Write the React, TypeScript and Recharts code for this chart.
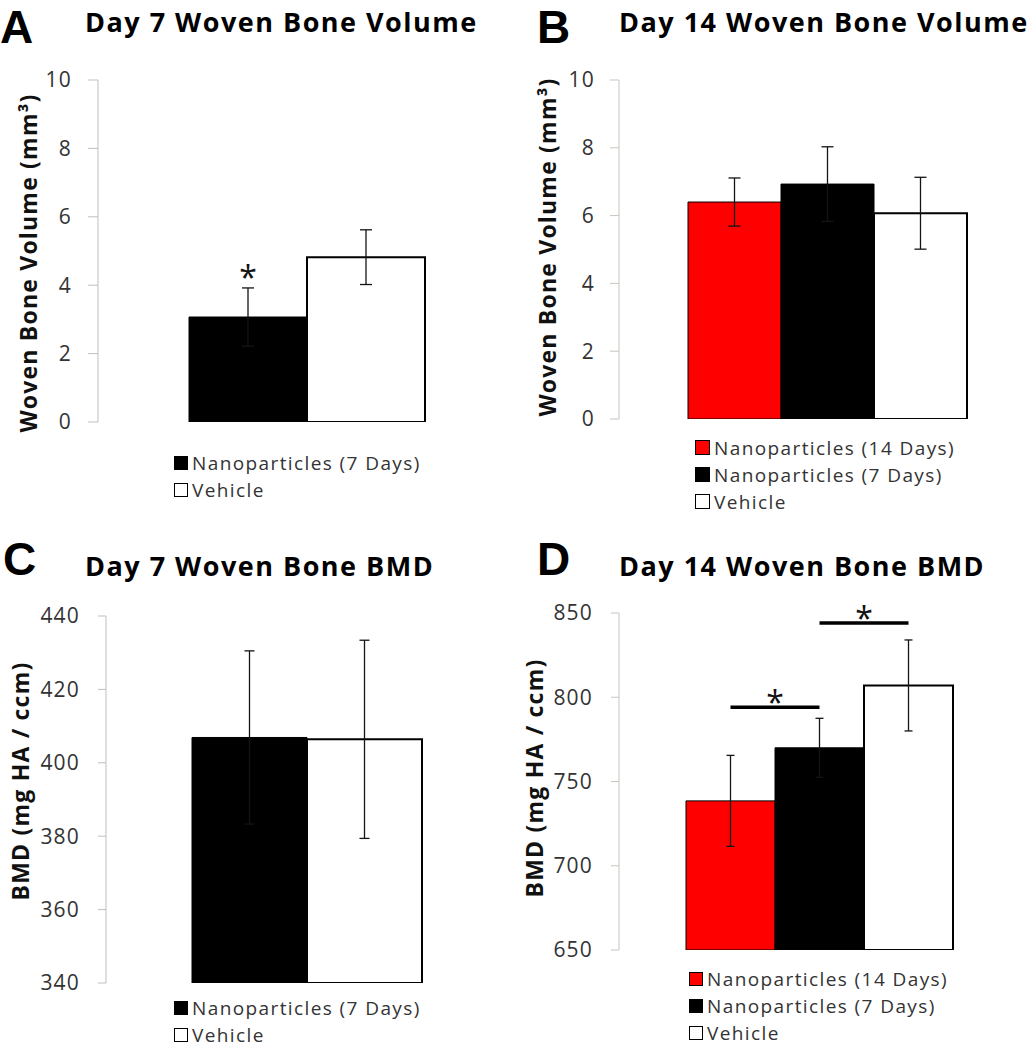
import React from 'react';
import { BarChart, Bar, XAxis, YAxis, Legend, ErrorBar } from 'recharts';

const FONT = '"Open Sans", "Liberation Sans", sans-serif';

// A: day 7 woven bone volume (mm3)
const day7Groups = ['Nanoparticles (7 Days)', 'Vehicle'];
const day7VolMeans = [3.07, 4.82];
const day7VolErrors = [0.85, 0.8];
const volTicks = [0, 2, 4, 6, 8, 10];

// B: day 14 woven bone volume (mm3)
const day14Groups = ['Nanoparticles (14 Days)', 'Nanoparticles (7 Days)', 'Vehicle'];
const day14VolMeans = [6.4, 6.93, 6.07];
const day14VolErrors = [0.71, 1.1, 1.06];

// C: day 7 woven bone BMD (mg HA / ccm)
const day7BmdMeans = [406.9, 406.4];
const day7BmdErrors = [23.6, 27];
const day7BmdTicks = [340, 360, 380, 400, 420, 440];

// D: day 14 woven bone BMD (mg HA / ccm)
const day14BmdMeans = [738.5, 770, 807];
const day14BmdErrors = [27, 17.5, 27];
const day14BmdTicks = [650, 700, 750, 800, 850];
// heights of the two significance brackets (red-black, black-white)
const day14BmdSigLevels = [794, 844];

const twoColors = ['#000000', '#ffffff'];
const threeColors = ['#ff0000', '#000000', '#ffffff'];

const toRows = (means: number[], errors: number[]) => {
  const row: Record<string, number | string> = { name: 'group' };
  means.forEach((m, i) => {
    row[`v${i}`] = m;
    row[`e${i}`] = errors[i];
  });
  return [row];
};

const SwatchLegend = ({ payload, size }: any) => (
  <div
    style={{
      fontFamily: FONT,
      fontSize: 19,
      letterSpacing: 1.4,
      color: '#333',
      whiteSpace: 'nowrap',
    }}
  >
    {(payload || []).map((entry: any, i: number) => (
      <div key={i} style={{ display: 'flex', alignItems: 'center', height: 27 }}>
        <span
          style={{
            display: 'inline-block',
            width: size,
            height: size,
            boxSizing: 'border-box',
            background: entry.color,
            border: `${entry.color === '#ffffff' ? 1.5 : 1}px solid #000`,
            marginRight: 4,
          }}
        />
        <span>{entry.value}</span>
      </div>
    ))}
  </div>
);

type PanelProps = {
  left: number;
  top: number;
  width: number;
  height: number;
  margin: { top: number; right: number; bottom: number; left: number };
  axisWidth: number;
  domain: [number, number];
  ticks: number[];
  tickSize: number;
  tickMargin: number;
  axisColor: string;
  groups: string[];
  means: number[];
  errors: number[];
  colors: string[];
  barSize: number;
  capWidth: number;
  yTitle: string;
  yTitlePos: [number, number];
  legendPos: [number, number];
  swatch: number;
  markerIndex?: number;
  marker?: (p: any) => React.ReactNode;
};

function Panel(p: PanelProps) {
  const data = toRows(p.means, p.errors);
  return (
    <div style={{ position: 'absolute', left: p.left, top: p.top }}>
      <BarChart width={p.width} height={p.height} data={data} margin={p.margin} barGap={0}>
        <XAxis dataKey="name" hide />
        <YAxis
          width={p.axisWidth}
          domain={p.domain}
          ticks={p.ticks}
          interval={0}
          allowDataOverflow
          tickSize={p.tickSize}
          tickMargin={p.tickMargin}
          axisLine={{ stroke: p.axisColor, strokeWidth: 1 }}
          tickLine={{ stroke: p.axisColor, strokeWidth: 1 }}
          tick={{ fill: '#333', fontSize: 21, fontFamily: FONT, letterSpacing: 1.2 }}
          label={{
            content: () => (
              <text
                transform={`translate(${p.yTitlePos[0]},${p.yTitlePos[1]}) rotate(-90)`}
                textAnchor="middle"
                dominantBaseline="central"
                fontFamily={FONT}
                fontWeight="bold"
                fontSize={23}
                letterSpacing={1.2}
                fill="#111"
              >
                {p.yTitle}
              </text>
            ),
          }}
        />
        <Legend
          layout="vertical"
          align="center"
          verticalAlign="middle"
          wrapperStyle={{ left: p.legendPos[0], top: p.legendPos[1], width: 340 }}
          content={(lp: any) => <SwatchLegend payload={lp.payload} size={p.swatch} />}
        />
        {p.groups.map((g, i) => (
          <Bar
            key={g}
            dataKey={`v${i}`}
            name={g}
            fill={p.colors[i]}
            stroke="#000"
            strokeWidth={p.colors[i] === '#ffffff' ? 2 : 1}
            barSize={p.barSize}
            isAnimationActive={false}
            label={p.markerIndex === i && p.marker ? p.marker : undefined}
          >
            <ErrorBar
              dataKey={`e${i}`}
              width={p.capWidth}
              stroke="#141414"
              strokeWidth={1.3}
              isAnimationActive={false}
            />
          </Bar>
        ))}
      </BarChart>
    </div>
  );
}

// asterisk just above the error bar of a bar
const starAbove = (err: number, base: number) => (lp: any) => {
  const { x, y, width, height, value } = lp;
  const k = height / (value - base);
  const top = y - err * k;
  return (
    <text x={x + width / 2} y={top + 1} textAnchor="middle" fontFamily={FONT} fontSize={32} fill="#111">
      *
    </text>
  );
};

// two significance brackets drawn from the middle (black) bar
const sigBrackets = (levels: number[], base: number) => (lp: any) => {
  const { x, y, width, height, value } = lp;
  const k = height / (value - base);
  const yAt = (v: number) => y - (v - value) * k;
  const mid = x + width / 2;
  const spans = [
    [mid - width, mid],
    [mid, mid + width],
  ];
  return (
    <g>
      {levels.map((lv, i) => (
        <g key={i}>
          <line x1={spans[i][0]} x2={spans[i][1]} y1={yAt(lv)} y2={yAt(lv)} stroke="#000" strokeWidth={3.5} />
          <text
            x={(spans[i][0] + spans[i][1]) / 2}
            y={yAt(lv) + 7}
            textAnchor="middle"
            fontFamily={FONT}
            fontSize={32}
            fill="#111"
          >
            *
          </text>
        </g>
      ))}
    </g>
  );
};

const letterStyle: React.CSSProperties = {
  position: 'absolute',
  fontFamily: '"Liberation Sans", Arial, sans-serif',
  fontWeight: 'bold',
  fontSize: 46,
  lineHeight: 'normal',
  color: '#000',
};

const titleStyle: React.CSSProperties = {
  position: 'absolute',
  fontFamily: FONT,
  fontWeight: 'bold',
  fontSize: 27,
  letterSpacing: 1.5,
  lineHeight: 1,
  color: '#000',
  whiteSpace: 'nowrap',
};

export default function App() {
  return (
    <div
      style={{
        position: 'absolute',
        left: 0,
        top: 0,
        width: 1030,
        height: 1050,
        overflow: 'hidden',
        background: '#fff',
      }}
    >
      <Panel
        left={0}
        top={0}
        width={520}
        height={520}
        margin={{ top: 80, right: 4, bottom: 98, left: 0 }}
        axisWidth={98}
        domain={[0, 10]}
        ticks={volTicks}
        tickSize={10}
        tickMargin={16}
        axisColor="#bfbfbf"
        groups={day7Groups}
        means={day7VolMeans}
        errors={day7VolErrors}
        colors={twoColors}
        barSize={118}
        capWidth={6}
        yTitle="Woven Bone Volume (mm³)"
        yTitlePos={[28, 263]}
        legendPos={[174, 449]}
        swatch={14}
        markerIndex={0}
        marker={starAbove(day7VolErrors[0], 0)}
      />
      <Panel
        left={515}
        top={0}
        width={520}
        height={520}
        margin={{ top: 80, right: 0, bottom: 101, left: 0 }}
        axisWidth={104}
        domain={[0, 10]}
        ticks={volTicks}
        tickSize={9}
        tickMargin={15}
        axisColor="#c3c8bd"
        groups={day14Groups}
        means={day14VolMeans}
        errors={day14VolErrors}
        colors={threeColors}
        barSize={93}
        capWidth={6}
        yTitle="Woven Bone Volume (mm³)"
        yTitlePos={[32, 247]}
        legendPos={[180, 434]}
        swatch={15}
      />
      <Panel
        left={0}
        top={520}
        width={515}
        height={530}
        margin={{ top: 96, right: 7, bottom: 67, left: 0 }}
        axisWidth={106}
        domain={[340, 440]}
        ticks={day7BmdTicks}
        tickSize={8}
        tickMargin={18}
        axisColor="#bfbfbf"
        groups={day7Groups}
        means={day7BmdMeans}
        errors={day7BmdErrors}
        colors={twoColors}
        barSize={115}
        capWidth={5}
        yTitle="BMD (mg HA / ccm)"
        yTitlePos={[20, 261]}
        legendPos={[174, 474]}
        swatch={14}
      />
      <Panel
        left={515}
        top={520}
        width={515}
        height={530}
        margin={{ top: 93, right: 10, bottom: 100, left: 0 }}
        axisWidth={104}
        domain={[650, 850]}
        ticks={day14BmdTicks}
        tickSize={8}
        tickMargin={18}
        axisColor="#c3c8bd"
        groups={day14Groups}
        means={day14BmdMeans}
        errors={day14BmdErrors}
        colors={threeColors}
        barSize={89}
        capWidth={4}
        yTitle="BMD (mg HA / ccm)"
        yTitlePos={[19, 258]}
        legendPos={[174, 445]}
        swatch={14}
        markerIndex={1}
        marker={sigBrackets(day14BmdSigLevels, 650)}
      />

      <div style={{ ...letterStyle, left: 0, top: 0 }}>A</div>
      <div style={{ ...titleStyle, left: 85, top: 8 }}>Day 7 Woven Bone Volume</div>
      <div style={{ ...letterStyle, left: 537, top: 0 }}>B</div>
      <div style={{ ...titleStyle, left: 619, top: 8 }}>Day 14 Woven Bone Volume</div>
      <div style={{ ...letterStyle, left: 3, top: 532 }}>C</div>
      <div style={{ ...titleStyle, left: 85, top: 552 }}>Day 7 Woven Bone BMD</div>
      <div style={{ ...letterStyle, left: 537, top: 532 }}>D</div>
      <div style={{ ...titleStyle, left: 619, top: 552 }}>Day 14 Woven Bone BMD</div>
    </div>
  );
}
